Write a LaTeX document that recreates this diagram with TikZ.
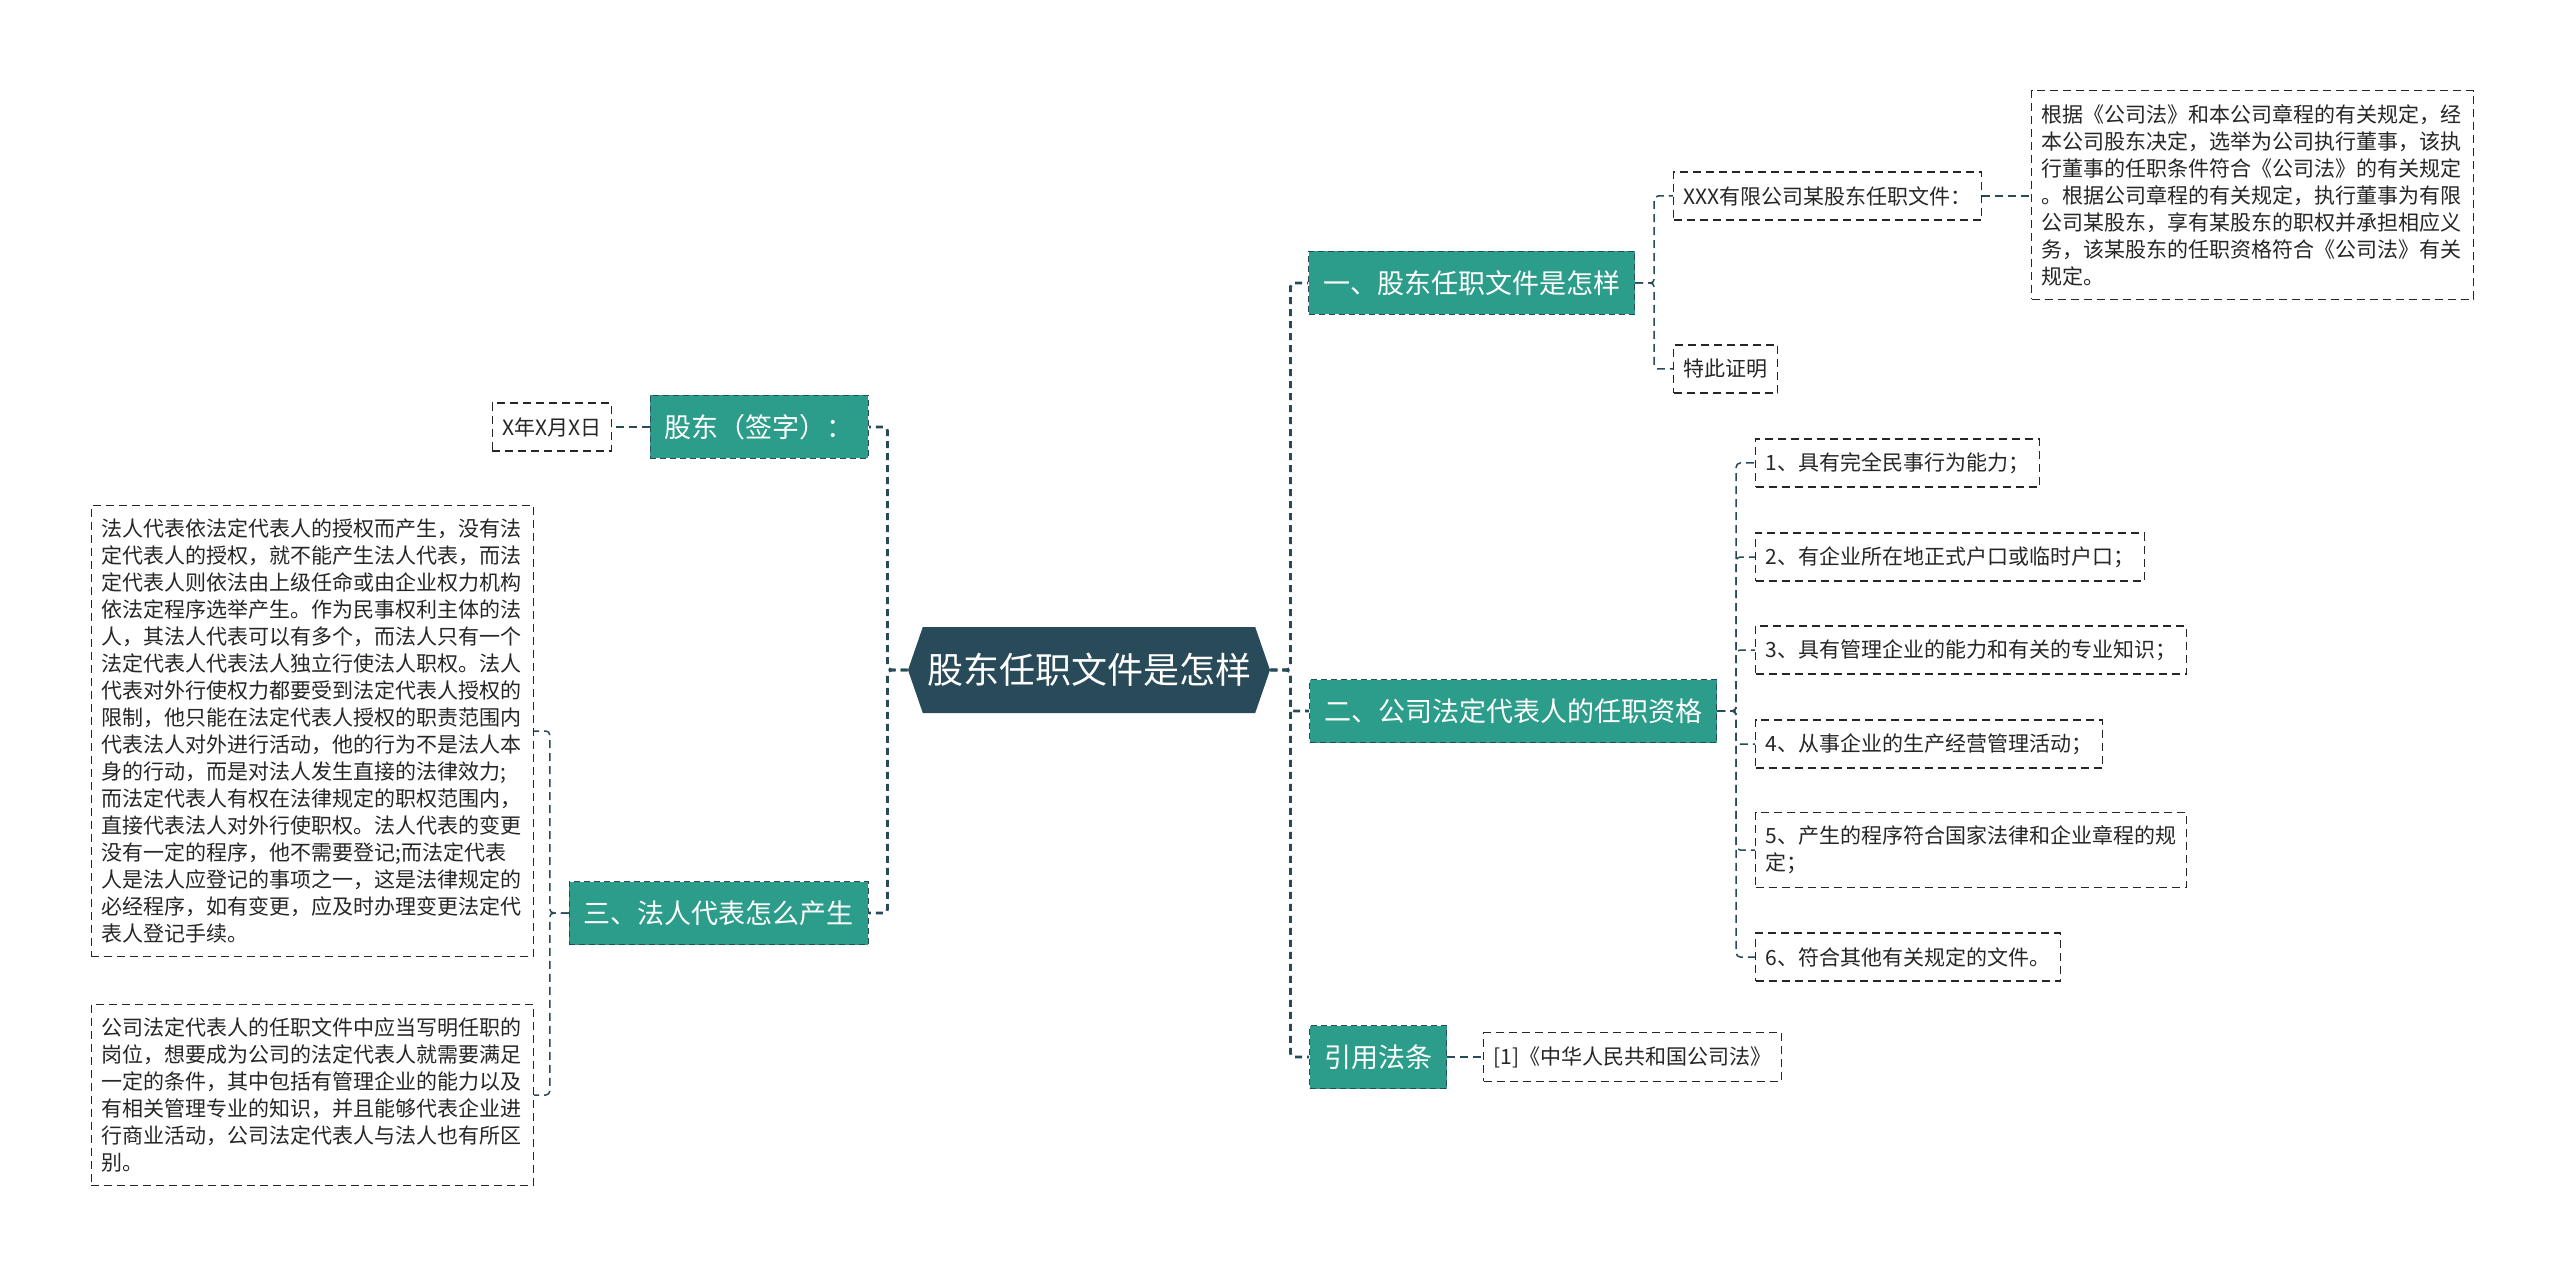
\documentclass[tikz,border=0pt]{standalone}
\usepackage{fontspec}
\setmainfont{Noto Sans CJK SC}
\usepackage{tikz}
\usetikzlibrary{shapes.symbols}
\definecolor{rootblue}{RGB}{40,74,89}
\definecolor{catgreen}{RGB}{44,157,139}
\definecolor{leafline}{RGB}{38,38,38}

\begin{document}
\begin{tikzpicture}[
        x=0.5pt, y=-0.5pt,
        root/.style={shape=signal, signal to=west and east, signal pointer angle=142, fill=rootblue, text=white, font=\fontsize{18}{22}\selectfont, minimum width=181pt, minimum height=43pt, inner sep=0pt},
        sub_cat/.style={draw=rootblue, fill=catgreen, dash pattern=on 3pt off 2pt, line width=0.6pt, text=white, font=\fontsize{13.5}{16}\selectfont, minimum height=31.5pt, inner xsep=7.25pt},
        details/.style={draw=leafline, text=leafline, dash pattern=on 4pt off 2.5pt, line width=0.65pt, font=\fontsize{10.5}{13.5}\selectfont, align=left, minimum height=24pt, inner xsep=5pt, inner ysep=6.75pt},
        long_text/.style={details, text width=211pt},
        main_edge/.style={draw=rootblue, line width=1.4pt, dash pattern=on 3.5pt off 2.5pt, rounded corners=2pt},
        sub_edge/.style={draw=rootblue, line width=0.75pt, dash pattern=on 4pt off 2.5pt, rounded corners=2pt}
    ]
    \path[use as bounding box, fill=white] (0,0) rectangle (2560,1278);

    \node[root] (doc_root) at (1089,670) {股东任职文件是怎样};

    \node[sub_cat, anchor=west] (q_one) at (1308,283) {一、股东任职文件是怎样};
    \node[sub_cat, anchor=west] (q_two) at (1309,711) {二、公司法定代表人的任职资格};
    \node[sub_cat, anchor=west] (q_law) at (1309,1057) {引用法条};
    \node[sub_cat, anchor=east] (signer) at (869,427) {股东（签字）：};
    \node[sub_cat, anchor=east] (q_three) at (869,913) {三、法人代表怎么产生};

    \node[details, anchor=west] (xxx_file) at (1673,196) {XXX有限公司某股东任职文件：};
    \node[long_text, anchor=west] (appoint_text) at (2031,195) {
        根据《公司法》和本公司章程的有关规定，经\\
        本公司股东决定，选举为公司执行董事，该执\\
        行董事的任职条件符合《公司法》的有关规定\\
        。根据公司章程的有关规定，执行董事为有限\\
        公司某股东，享有某股东的职权并承担相应义\\
        务，该某股东的任职资格符合《公司法》有关\\
        规定。};
    \node[details, anchor=west] (certify) at (1673,369) {特此证明};

    \node[details, anchor=west] (req_a) at (1755,463) {1、具有完全民事行为能力；};
    \node[details, anchor=west] (req_b) at (1755,557) {2、有企业所在地正式户口或临时户口；};
    \node[details, anchor=west] (req_c) at (1755,650) {3、具有管理企业的能力和有关的专业知识；};
    \node[details, anchor=west] (req_d) at (1755,744) {4、从事企业的生产经营管理活动；};
    \node[details, anchor=west] (req_e) at (1755,850) {5、产生的程序符合国家法律和企业章程的规\\定；};
    \node[details, anchor=west] (req_f) at (1755,957) {6、符合其他有关规定的文件。};

    \node[details, anchor=west] (law_ref) at (1483,1057) {[1]《中华人民共和国公司法》};

    \node[details, anchor=east] (sign_date) at (612,427) {X年X月X日};

    \node[long_text, anchor=east] (rep_text_a) at (534,731) {
        法人代表依法定代表人的授权而产生，没有法\\
        定代表人的授权，就不能产生法人代表，而法\\
        定代表人则依法由上级任命或由企业权力机构\\
        依法定程序选举产生。作为民事权利主体的法\\
        人，其法人代表可以有多个，而法人只有一个\\
        法定代表人代表法人独立行使法人职权。法人\\
        代表对外行使权力都要受到法定代表人授权的\\
        限制，他只能在法定代表人授权的职责范围内\\
        代表法人对外进行活动，他的行为不是法人本\\
        身的行动，而是对法人发生直接的法律效力;\\
        而法定代表人有权在法律规定的职权范围内，\\
        直接代表法人对外行使职权。法人代表的变更\\
        没有一定的程序，他不需要登记;而法定代表\\
        人是法人应登记的事项之一，这是法律规定的\\
        必经程序，如有变更，应及时办理变更法定代\\
        表人登记手续。};
    \node[long_text, anchor=east] (rep_text_b) at (534,1095) {
        公司法定代表人的任职文件中应当写明任职的\\
        岗位，想要成为公司的法定代表人就需要满足\\
        一定的条件，其中包括有管理企业的能力以及\\
        有相关管理专业的知识，并且能够代表企业进\\
        行商业活动，公司法定代表人与法人也有所区\\
        别。};

    \draw[main_edge] (doc_root.east) -- ++(20,0) |- (q_one.west);
    \draw[main_edge] (doc_root.east) -- ++(20,0) |- (q_two.west);
    \draw[main_edge] (doc_root.east) -- ++(20,0) |- (q_law.west);
    \draw[main_edge] (doc_root.west) -- ++(-20,0) |- (signer.east);
    \draw[main_edge] (doc_root.west) -- ++(-20,0) |- (q_three.east);

    \draw[sub_edge] (q_one.east) -- ++(19,0) |- (xxx_file.west);
    \draw[sub_edge] (q_one.east) -- ++(19,0) |- (certify.west);
    \draw[sub_edge] (xxx_file.east) -- (xxx_file.east -| appoint_text.west);

    \draw[sub_edge] (q_two.east) -- ++(19,0) |- (req_a.west);
    \draw[sub_edge] (q_two.east) -- ++(19,0) |- (req_b.west);
    \draw[sub_edge] (q_two.east) -- ++(19,0) |- (req_c.west);
    \draw[sub_edge] (q_two.east) -- ++(19,0) |- (req_d.west);
    \draw[sub_edge] (q_two.east) -- ++(19,0) |- (req_e.west);
    \draw[sub_edge] (q_two.east) -- ++(19,0) |- (req_f.west);

    \draw[sub_edge] (q_law.east) -- (law_ref.west);
    \draw[sub_edge] (signer.west) -- (sign_date.east);
    \draw[sub_edge] (q_three.west) -- ++(-19,0) |- (rep_text_a.east);
    \draw[sub_edge] (q_three.west) -- ++(-19,0) |- (rep_text_b.east);
\end{tikzpicture}
\end{document}
